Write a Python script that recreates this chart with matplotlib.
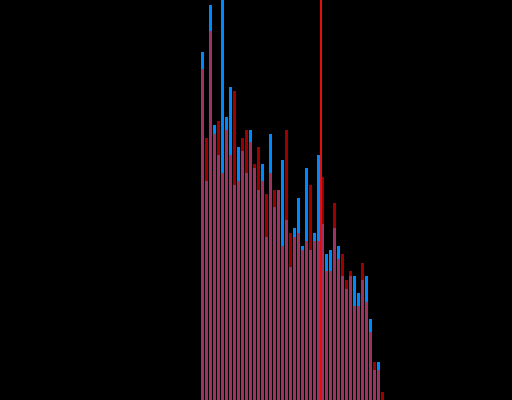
import numpy as np
import matplotlib
matplotlib.use('Agg')

import matplotlib.pyplot as plt

# bin index and counts (two overlaid histograms)
bins = np.arange(46)
blue_counts = [348, 219, 395, 275, 245, 410, 283, 313, 215, 253,
               249, 227, 270, 232, 210, 236, 163, 266, 193, 210,
               240, 180, 133, 172, 202, 154, 232, 150, 167, 245,
               176, 146, 150, 172, 154, 124, 111, 124, 124, 107,
               120, 124, 81, 30, 38, 0]
red_counts = [331, 262, 369, 266, 279, 227, 270, 245, 309, 219,
              262, 270, 258, 236, 253, 219, 206, 227, 210, 210,
              154, 270, 167, 163, 167, 150, 159, 215, 159, 159,
              223, 129, 129, 197, 141, 146, 120, 129, 94, 94,
              137, 98, 68, 38, 30, 8]
marker = 29.5

fig = plt.figure(figsize=(5.12, 4.0), dpi=100, facecolor='black')
ax = fig.add_axes([0, 0, 1, 1])
ax.set_facecolor('black')

ax.bar(bins, blue_counts, width=0.75, color='#0088ff')
ax.bar(bins, red_counts, width=0.75, color='#ff0000', alpha=0.62)
ax.axvline(marker, color='#e01010', linewidth=1.44)

ax.set_xlim(-50.625, 77.375)
ax.set_ylim(0, 400)
ax.axis('off')

plt.savefig('out.png', dpi=100, facecolor='black')
